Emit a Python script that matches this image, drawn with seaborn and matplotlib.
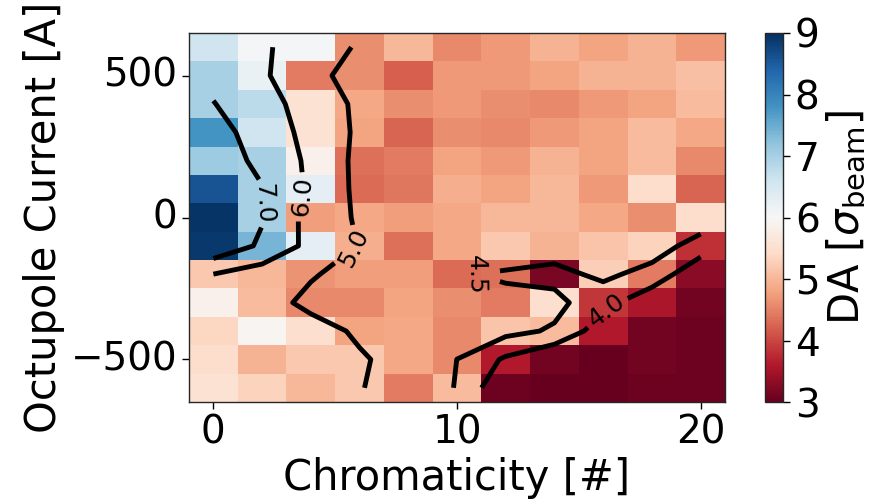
import numpy as np
import pandas as pd
import seaborn as sns
import matplotlib
matplotlib.use('Agg')
import matplotlib.pyplot as plt

# Chromaticity scan (columns) and octupole current scan (rows, top to bottom)
chroma = [0, 2, 4, 6, 8, 10, 12, 14, 16, 18, 20]
current = [600, 500, 400, 300, 200, 100, 0, -100, -200, -300, -400, -500, -600]

# Dynamic aperture in sigma_beam, one row per octupole current
da_values = [
    [6.60, 6.05, 6.05, 4.60, 5.00, 4.55, 4.70, 4.95, 4.80, 4.95, 4.70],
    [7.00, 6.20, 4.45, 4.60, 4.20, 4.70, 4.70, 4.80, 4.95, 4.95, 5.10],
    [7.00, 6.80, 5.55, 4.85, 4.60, 4.70, 4.60, 4.55, 4.70, 4.80, 5.05],
    [7.80, 6.60, 5.55, 4.80, 4.25, 4.60, 4.55, 4.70, 4.80, 5.05, 4.85],
    [7.10, 7.00, 5.85, 4.35, 4.45, 4.80, 4.70, 4.95, 4.80, 5.05, 4.55],
    [8.60, 7.00, 6.30, 4.30, 4.40, 4.90, 4.80, 5.00, 4.70, 5.45, 4.25],
    [8.95, 7.00, 4.75, 4.85, 4.75, 4.85, 5.00, 5.00, 4.85, 4.60, 5.45],
    [8.90, 7.40, 6.30, 4.90, 4.35, 4.85, 5.20, 4.95, 5.15, 5.30, 3.80],
    [5.20, 5.00, 4.65, 4.75, 4.75, 4.30, 4.35, 3.15, 5.25, 4.45, 3.30],
    [5.85, 5.05, 4.55, 4.55, 4.80, 4.60, 4.45, 5.50, 3.85, 3.55, 3.10],
    [5.35, 5.95, 5.50, 4.80, 4.85, 4.55, 5.15, 5.05, 3.60, 3.10, 3.05],
    [5.45, 4.95, 5.20, 5.20, 4.85, 4.55, 3.60, 3.10, 3.00, 3.10, 3.05],
    [5.55, 5.30, 5.00, 5.20, 4.45, 5.05, 3.05, 3.00, 3.00, 3.05, 3.05],
]

contour_levels = [4.0, 4.5, 5.0, 6.0, 7.0]
xtick_values = [0, 10, 20]
ytick_values = [500, 0, -500]


def gaussian_smooth(z, sigma=1.0, truncate=4.0):
    """Separable gaussian filter (reflect edges), used for the contour lines"""
    r = int(truncate * sigma + 0.5)
    k = np.exp(-0.5 * (np.arange(-r, r + 1) / sigma) ** 2)
    k /= k.sum()
    zp = np.pad(z, r, mode='symmetric')
    tmp = np.apply_along_axis(lambda v: np.convolve(v, k, mode='valid'), 1, zp)
    return np.apply_along_axis(lambda v: np.convolve(v, k, mode='valid'), 0, tmp)


df = pd.DataFrame(da_values, index=current, columns=chroma)

sns.set_style('ticks')
plt.rcParams['font.family'] = ['DejaVu Sans']
plt.rcParams['mathtext.fontset'] = 'dejavusans'
for key in ['text.color', 'axes.labelcolor', 'xtick.color', 'ytick.color']:
    plt.rcParams[key] = 'black'

fig = plt.figure(figsize=(8.69, 5.03), dpi=100)
ax = fig.add_axes([189 / 869, 101 / 503, 536 / 869, 369 / 503])
cax = fig.add_axes([765 / 869, 101 / 503, 18 / 869, 369 / 503])

sns.heatmap(df, ax=ax, cmap='RdBu', vmin=3, vmax=9, cbar_ax=cax,
            cbar_kws={'ticks': list(range(3, 10))})

# heatmap cell centres sit at i + 0.5
xpos = np.arange(len(chroma)) + 0.5
ypos = np.arange(len(current)) + 0.5
smooth = gaussian_smooth(df.values.astype(float), sigma=0.7)
cs = ax.contour(xpos, ypos, smooth, levels=contour_levels, colors='k',
                linewidths=3.5)


def to_cell(x, y):
    return (x / 2 + 0.5, (600 - y) / 100 + 0.5)


label_spots = [to_cell(16.2, -338), to_cell(10.75, -210), to_cell(5.85, -115),
               to_cell(3.8, 70), to_cell(1.9, 50)]
ax.clabel(cs, fmt='%1.1f', fontsize=18, inline=True, manual=label_spots)

ax.set_xticks([v / 2 + 0.5 for v in xtick_values])
ax.set_xticklabels([str(v) for v in xtick_values], rotation=0)
ax.set_yticks([(600 - v) / 100 + 0.5 for v in ytick_values])
ax.set_yticklabels([str(v).replace('-', '\u2212') for v in ytick_values], rotation=0)
ax.tick_params(labelsize=28, length=5, width=1, colors='black')
ax.set_xlabel('Chromaticity [#]', fontsize=30)
ax.set_ylabel('Octupole Current [A]', fontsize=30)
for s in ax.spines.values():
    s.set_visible(True)
    s.set_linewidth(1)
    s.set_color('0.15')

cbar = ax.collections[0].colorbar
cbar.outline.set_linewidth(1)
cbar.outline.set_edgecolor('0.15')
cax.tick_params(labelsize=28, length=5, width=1, colors='black')
cbar.set_label(r'DA [$\sigma_{\mathrm{beam}}$]', fontsize=30)

fig.savefig('out.png', dpi=100)
